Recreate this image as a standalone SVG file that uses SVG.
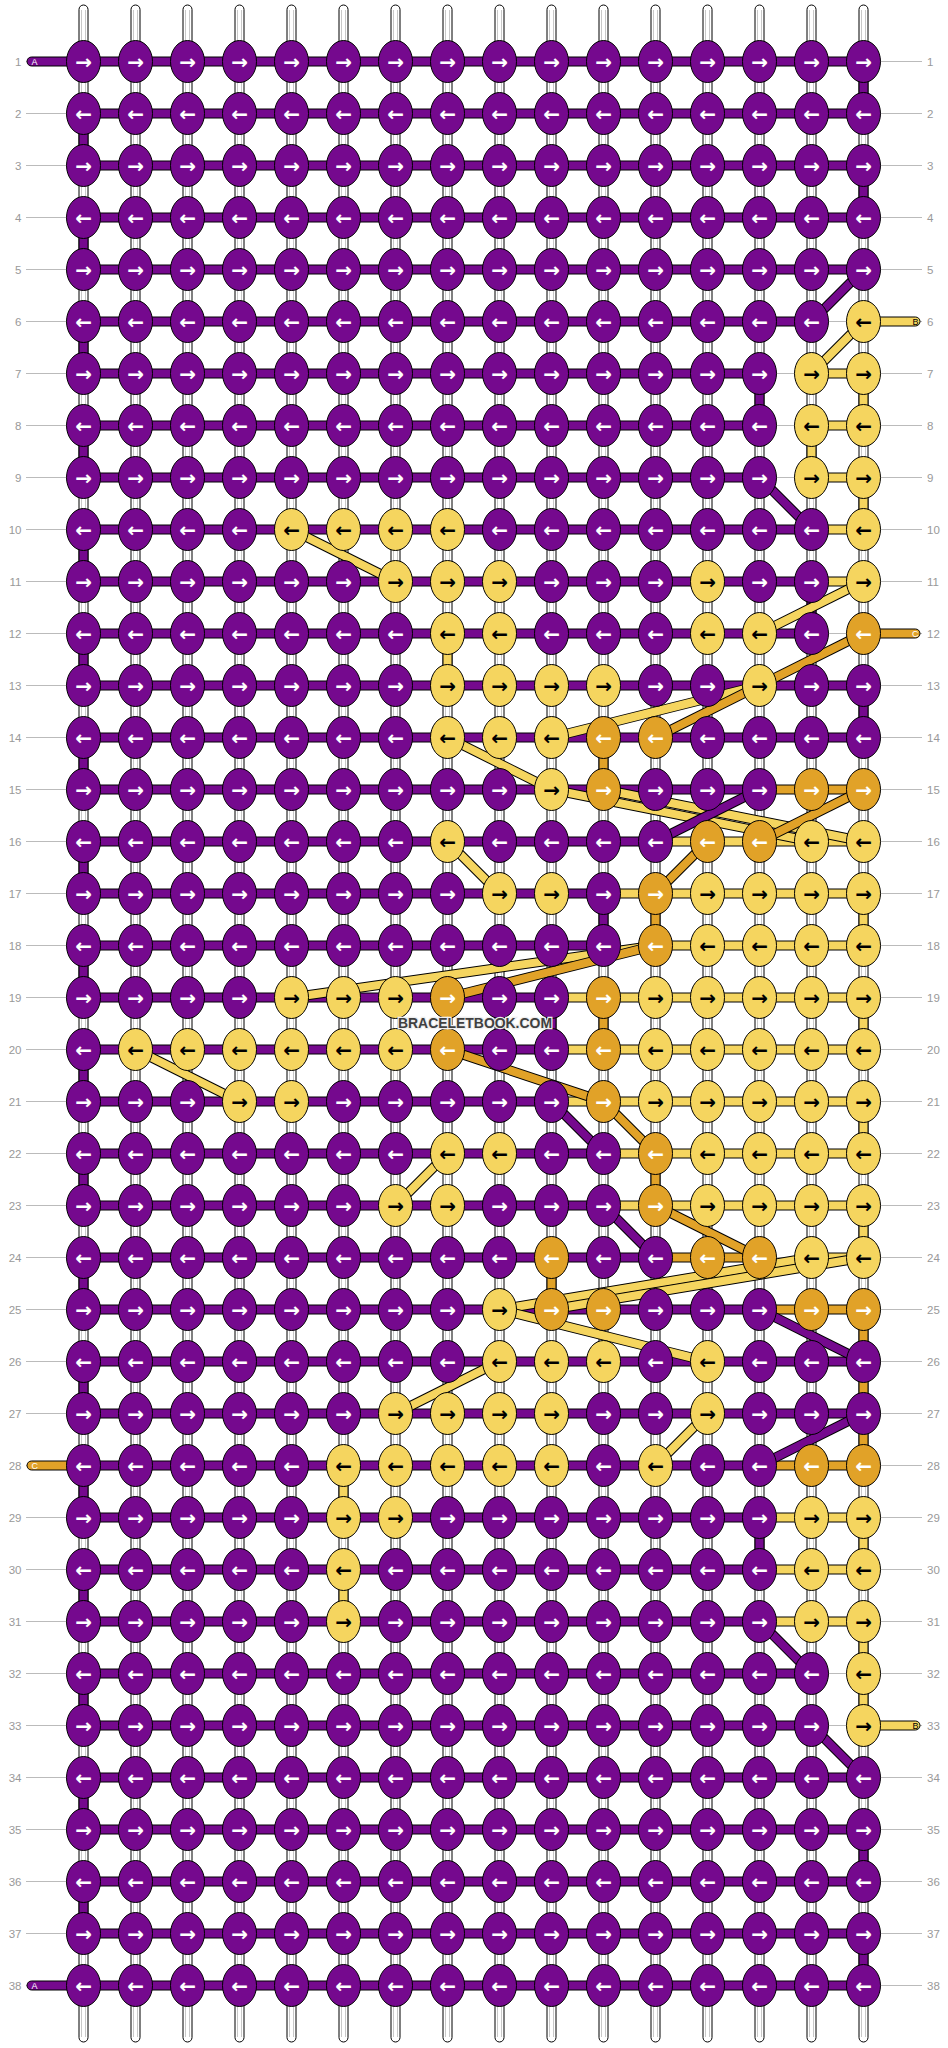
<svg xmlns="http://www.w3.org/2000/svg" width="948" height="2048" viewBox="0 0 948 2048">
<style>
.gl{stroke:#bbb;stroke-width:1;fill:none}
.lb{font:11.5px "Liberation Sans",Arial,sans-serif;fill:#999}
.l{text-anchor:end}
.st{fill:#fff;stroke:#000;stroke-width:1}
.si{fill:none;stroke:#c8c8c8;stroke-width:1}
.sp{fill:#75098e;stroke:#000;stroke-width:1}
.sy{fill:#f5d55f;stroke:#000;stroke-width:1}
.so{fill:#e1a228;stroke:#000;stroke-width:1}
.db{stroke:#000;stroke-width:10;fill:none}
.dp{stroke:#75098e;stroke-width:8;fill:none}
.dy{stroke:#f5d55f;stroke-width:8;fill:none}
.do{stroke:#e1a228;stroke-width:8;fill:none}
.tl{font:9px "Liberation Sans",Arial,sans-serif}
#knots ellipse{rx:17px;ry:21px;stroke:#000;stroke-width:1;fill:#75098e}
#knots text{font:bold 20px "DejaVu Sans",sans-serif;text-anchor:middle;dominant-baseline:central;fill:#fff}
#knots .Y ellipse{fill:#f5d55f}
#knots .O ellipse{fill:#e1a228}
#knots .Y text{fill:#000}
</style>
<g id="guides">
<path class="gl" d="M26 61.5H922M26 113.5H922M26 165.5H922M26 217.5H922M26 269.5H922M26 321.5H922M26 373.5H922M26 425.5H922M26 477.5H922M26 529.5H922M26 581.5H922M26 633.5H922M26 685.5H922M26 737.5H922M26 789.5H922M26 841.5H922M26 893.5H922M26 945.5H922M26 997.5H922M26 1049.5H922M26 1101.5H922M26 1153.5H922M26 1205.5H922M26 1257.5H922M26 1309.5H922M26 1361.5H922M26 1413.5H922M26 1465.5H922M26 1517.5H922M26 1569.5H922M26 1621.5H922M26 1673.5H922M26 1725.5H922M26 1777.5H922M26 1829.5H922M26 1881.5H922M26 1933.5H922M26 1985.5H922"/>
</g>
<g id="labels">
<text class="lb l" x="21.5" y="65.5">1</text><text class="lb l" x="21.5" y="117.5">2</text><text class="lb l" x="21.5" y="169.5">3</text><text class="lb l" x="21.5" y="221.5">4</text><text class="lb l" x="21.5" y="273.5">5</text><text class="lb l" x="21.5" y="325.5">6</text><text class="lb l" x="21.5" y="377.5">7</text><text class="lb l" x="21.5" y="429.5">8</text><text class="lb l" x="21.5" y="481.5">9</text><text class="lb l" x="21.5" y="533.5">10</text><text class="lb l" x="21.5" y="585.5">11</text><text class="lb l" x="21.5" y="637.5">12</text><text class="lb l" x="21.5" y="689.5">13</text><text class="lb l" x="21.5" y="741.5">14</text><text class="lb l" x="21.5" y="793.5">15</text><text class="lb l" x="21.5" y="845.5">16</text><text class="lb l" x="21.5" y="897.5">17</text><text class="lb l" x="21.5" y="949.5">18</text><text class="lb l" x="21.5" y="1001.5">19</text><text class="lb l" x="21.5" y="1053.5">20</text><text class="lb l" x="21.5" y="1105.5">21</text><text class="lb l" x="21.5" y="1157.5">22</text><text class="lb l" x="21.5" y="1209.5">23</text><text class="lb l" x="21.5" y="1261.5">24</text><text class="lb l" x="21.5" y="1313.5">25</text><text class="lb l" x="21.5" y="1365.5">26</text><text class="lb l" x="21.5" y="1417.5">27</text><text class="lb l" x="21.5" y="1469.5">28</text><text class="lb l" x="21.5" y="1521.5">29</text><text class="lb l" x="21.5" y="1573.5">30</text><text class="lb l" x="21.5" y="1625.5">31</text><text class="lb l" x="21.5" y="1677.5">32</text><text class="lb l" x="21.5" y="1729.5">33</text><text class="lb l" x="21.5" y="1781.5">34</text><text class="lb l" x="21.5" y="1833.5">35</text><text class="lb l" x="21.5" y="1885.5">36</text><text class="lb l" x="21.5" y="1937.5">37</text><text class="lb l" x="21.5" y="1989.5">38</text>
<text class="lb" x="927" y="65.5">1</text><text class="lb" x="927" y="117.5">2</text><text class="lb" x="927" y="169.5">3</text><text class="lb" x="927" y="221.5">4</text><text class="lb" x="927" y="273.5">5</text><text class="lb" x="927" y="325.5">6</text><text class="lb" x="927" y="377.5">7</text><text class="lb" x="927" y="429.5">8</text><text class="lb" x="927" y="481.5">9</text><text class="lb" x="927" y="533.5">10</text><text class="lb" x="927" y="585.5">11</text><text class="lb" x="927" y="637.5">12</text><text class="lb" x="927" y="689.5">13</text><text class="lb" x="927" y="741.5">14</text><text class="lb" x="927" y="793.5">15</text><text class="lb" x="927" y="845.5">16</text><text class="lb" x="927" y="897.5">17</text><text class="lb" x="927" y="949.5">18</text><text class="lb" x="927" y="1001.5">19</text><text class="lb" x="927" y="1053.5">20</text><text class="lb" x="927" y="1105.5">21</text><text class="lb" x="927" y="1157.5">22</text><text class="lb" x="927" y="1209.5">23</text><text class="lb" x="927" y="1261.5">24</text><text class="lb" x="927" y="1313.5">25</text><text class="lb" x="927" y="1365.5">26</text><text class="lb" x="927" y="1417.5">27</text><text class="lb" x="927" y="1469.5">28</text><text class="lb" x="927" y="1521.5">29</text><text class="lb" x="927" y="1573.5">30</text><text class="lb" x="927" y="1625.5">31</text><text class="lb" x="927" y="1677.5">32</text><text class="lb" x="927" y="1729.5">33</text><text class="lb" x="927" y="1781.5">34</text><text class="lb" x="927" y="1833.5">35</text><text class="lb" x="927" y="1885.5">36</text><text class="lb" x="927" y="1937.5">37</text><text class="lb" x="927" y="1989.5">38</text>
</g>
<g id="strings">
<rect class="st" x="79" y="5" width="9" height="2037" rx="4.5"/><rect class="st" x="131" y="5" width="9" height="2037" rx="4.5"/><rect class="st" x="183" y="5" width="9" height="2037" rx="4.5"/><rect class="st" x="235" y="5" width="9" height="2037" rx="4.5"/><rect class="st" x="287" y="5" width="9" height="2037" rx="4.5"/><rect class="st" x="339" y="5" width="9" height="2037" rx="4.5"/><rect class="st" x="391" y="5" width="9" height="2037" rx="4.5"/><rect class="st" x="443" y="5" width="9" height="2037" rx="4.5"/><rect class="st" x="495" y="5" width="9" height="2037" rx="4.5"/><rect class="st" x="547" y="5" width="9" height="2037" rx="4.5"/><rect class="st" x="599" y="5" width="9" height="2037" rx="4.5"/><rect class="st" x="651" y="5" width="9" height="2037" rx="4.5"/><rect class="st" x="703" y="5" width="9" height="2037" rx="4.5"/><rect class="st" x="755" y="5" width="9" height="2037" rx="4.5"/><rect class="st" x="807" y="5" width="9" height="2037" rx="4.5"/><rect class="st" x="859" y="5" width="9" height="2037" rx="4.5"/>
<path class="si" d="M81.5 10V2037M85.5 10V2037M133.5 10V2037M137.5 10V2037M185.5 10V2037M189.5 10V2037M237.5 10V2037M241.5 10V2037M289.5 10V2037M293.5 10V2037M341.5 10V2037M345.5 10V2037M393.5 10V2037M397.5 10V2037M445.5 10V2037M449.5 10V2037M497.5 10V2037M501.5 10V2037M549.5 10V2037M553.5 10V2037M601.5 10V2037M605.5 10V2037M653.5 10V2037M657.5 10V2037M705.5 10V2037M709.5 10V2037M757.5 10V2037M761.5 10V2037M809.5 10V2037M813.5 10V2037M861.5 10V2037M865.5 10V2037"/>
</g>
<g id="ends">
<rect class="sp" x="27" y="57" width="60" height="9" rx="4.5"/><text class="tl" x="31.5" y="64.8" fill="#fff">A</text>
<rect class="sp" x="27" y="1981" width="60" height="9" rx="4.5"/><text class="tl" x="31.5" y="1988.8" fill="#fff">A</text>
<rect class="so" x="27" y="1461" width="60" height="9" rx="4.5"/><text class="tl" x="31.5" y="1468.8" fill="#fff">C</text>
<rect class="sy" x="860" y="317" width="60" height="9" rx="4.5"/><text class="tl l" x="918.5" y="324.8" fill="#000">B</text>
<rect class="so" x="860" y="629" width="60" height="9" rx="4.5"/><text class="tl l" x="918.5" y="636.8" fill="#fff">C</text>
<rect class="sy" x="860" y="1721" width="60" height="9" rx="4.5"/><text class="tl l" x="918.5" y="1728.8" fill="#000">B</text>
</g>
<g id="connectors">
<path class="sp" d="M79 113.5h9v52h-9zM79 217.5h9v52h-9zM79 321.5h9v52h-9zM79 425.5h9v52h-9zM79 529.5h9v52h-9zM79 633.5h9v52h-9zM79 737.5h9v52h-9zM79 841.5h9v52h-9zM79 945.5h9v52h-9zM79 1049.5h9v52h-9zM79 1153.5h9v52h-9zM79 1257.5h9v52h-9zM79 1361.5h9v52h-9zM79 1465.5h9v52h-9zM79 1569.5h9v52h-9zM79 1673.5h9v52h-9zM79 1777.5h9v52h-9zM79 1881.5h9v52h-9zM859 61.5h9v52h-9zM859 165.5h9v52h-9zM859 685.5h9v52h-9zM859 1829.5h9v52h-9zM859 1933.5h9v52h-9zM755 373.5h9v52h-9zM807 581.5h9v52h-9zM599 893.5h9v52h-9zM547 997.5h9v52h-9zM755 1517.5h9v52h-9z"/>
<path class="sy" d="M859 373.5h9v52h-9zM807 425.5h9v52h-9zM859 477.5h9v52h-9zM443 633.5h9v52h-9zM859 893.5h9v52h-9zM859 997.5h9v52h-9zM859 1101.5h9v52h-9zM859 1205.5h9v52h-9zM339 1465.5h9v52h-9zM859 1517.5h9v52h-9zM339 1569.5h9v52h-9zM859 1621.5h9v52h-9zM859 1673.5h9v52h-9z"/>
<path class="so" d="M599 737.5h9v52h-9zM651 893.5h9v52h-9zM599 997.5h9v52h-9zM651 1153.5h9v52h-9zM547 1257.5h9v52h-9zM859 1309.5h9v52h-9zM859 1361.5h9v52h-9zM859 1413.5h9v52h-9z"/>
<path class="sp" d="M83.5 57h780v9h-780zM83.5 109h780v9h-780zM83.5 161h780v9h-780zM83.5 213h780v9h-780zM83.5 265h780v9h-780zM83.5 317h728v9h-728zM83.5 369h676v9h-676zM83.5 421h676v9h-676zM83.5 473h676v9h-676zM83.5 525h728v9h-728zM83.5 577h728v9h-728zM83.5 629h728v9h-728zM83.5 681h780v9h-780zM83.5 733h780v9h-780zM83.5 785h676v9h-676zM83.5 837h572v9h-572zM83.5 889h520v9h-520zM83.5 941h520v9h-520zM83.5 993h468v9h-468zM83.5 1045h468v9h-468zM83.5 1097h468v9h-468zM83.5 1149h520v9h-520zM83.5 1201h520v9h-520zM83.5 1253h572v9h-572zM83.5 1305h676v9h-676zM83.5 1357h780v9h-780zM83.5 1409h780v9h-780zM83.5 1461h676v9h-676zM83.5 1513h676v9h-676zM83.5 1565h676v9h-676zM83.5 1617h676v9h-676zM83.5 1669h728v9h-728zM83.5 1721h728v9h-728zM83.5 1773h780v9h-780zM83.5 1825h780v9h-780zM83.5 1877h780v9h-780zM83.5 1929h780v9h-780zM83.5 1981h780v9h-780z"/>
<path class="sy" d="M811.5 369h52v9h-52zM811.5 421h52v9h-52zM811.5 473h52v9h-52zM811.5 525h52v9h-52zM811.5 577h52v9h-52zM655.5 837h208v9h-208zM603.5 889h260v9h-260zM655.5 941h208v9h-208zM551.5 993h312v9h-312zM551.5 1045h312v9h-312zM551.5 1097h312v9h-312zM603.5 1149h260v9h-260zM603.5 1201h260v9h-260zM811.5 1253h52v9h-52zM759.5 1513h104v9h-104zM759.5 1565h104v9h-104zM759.5 1617h104v9h-104z"/>
<path class="so" d="M759.5 785h104v9h-104zM655.5 1253h104v9h-104zM759.5 1305h104v9h-104zM759.5 1461h104v9h-104z"/>
<path class="db" d="M863.5 269.5L811.5 321.5"/><path class="dp" d="M863.5 269.5L811.5 321.5"/>
<path class="db" d="M863.5 321.5L811.5 373.5"/><path class="dy" d="M863.5 321.5L811.5 373.5"/>
<path class="db" d="M759.5 477.5L811.5 529.5"/><path class="dp" d="M759.5 477.5L811.5 529.5"/>
<path class="db" d="M291.5 529.5L395.5 581.5"/><path class="dy" d="M291.5 529.5L395.5 581.5"/>
<path class="db" d="M863.5 581.5L759.5 633.5"/><path class="dy" d="M863.5 581.5L759.5 633.5"/>
<path class="db" d="M759.5 685.5L551.5 737.5"/><path class="dy" d="M759.5 685.5L551.5 737.5"/>
<path class="db" d="M863.5 633.5L655.5 737.5"/><path class="do" d="M863.5 633.5L655.5 737.5"/>
<path class="db" d="M447.5 737.5L551.5 789.5"/><path class="dy" d="M447.5 737.5L551.5 789.5"/>
<path class="db" d="M551.5 789.5L811.5 841.5"/><path class="dy" d="M551.5 789.5L811.5 841.5"/>
<path class="db" d="M603.5 789.5L863.5 841.5"/><path class="dy" d="M603.5 789.5L863.5 841.5"/>
<path class="db" d="M759.5 789.5L655.5 841.5"/><path class="dp" d="M759.5 789.5L655.5 841.5"/>
<path class="db" d="M863.5 789.5L759.5 841.5"/><path class="do" d="M863.5 789.5L759.5 841.5"/>
<path class="db" d="M447.5 841.5L499.5 893.5"/><path class="dy" d="M447.5 841.5L499.5 893.5"/>
<path class="db" d="M707.5 841.5L655.5 893.5"/><path class="do" d="M707.5 841.5L655.5 893.5"/>
<path class="db" d="M655.5 945.5L291.5 997.5"/><path class="dy" d="M655.5 945.5L291.5 997.5"/>
<path class="db" d="M655.5 945.5L447.5 997.5"/><path class="do" d="M655.5 945.5L447.5 997.5"/>
<path class="db" d="M135.5 1049.5L239.5 1101.5"/><path class="dy" d="M135.5 1049.5L239.5 1101.5"/>
<path class="db" d="M447.5 1049.5L603.5 1101.5"/><path class="do" d="M447.5 1049.5L603.5 1101.5"/>
<path class="db" d="M551.5 1101.5L603.5 1153.5"/><path class="dp" d="M551.5 1101.5L603.5 1153.5"/>
<path class="db" d="M603.5 1101.5L655.5 1153.5"/><path class="do" d="M603.5 1101.5L655.5 1153.5"/>
<path class="db" d="M447.5 1153.5L395.5 1205.5"/><path class="dy" d="M447.5 1153.5L395.5 1205.5"/>
<path class="db" d="M603.5 1205.5L655.5 1257.5"/><path class="dp" d="M603.5 1205.5L655.5 1257.5"/>
<path class="db" d="M655.5 1205.5L759.5 1257.5"/><path class="do" d="M655.5 1205.5L759.5 1257.5"/>
<path class="db" d="M811.5 1257.5L499.5 1309.5"/><path class="dy" d="M811.5 1257.5L499.5 1309.5"/>
<path class="db" d="M863.5 1257.5L551.5 1309.5"/><path class="dy" d="M863.5 1257.5L551.5 1309.5"/>
<path class="db" d="M499.5 1309.5L707.5 1361.5"/><path class="dy" d="M499.5 1309.5L707.5 1361.5"/>
<path class="db" d="M759.5 1309.5L863.5 1361.5"/><path class="dp" d="M759.5 1309.5L863.5 1361.5"/>
<path class="db" d="M499.5 1361.5L395.5 1413.5"/><path class="dy" d="M499.5 1361.5L395.5 1413.5"/>
<path class="db" d="M863.5 1413.5L759.5 1465.5"/><path class="dp" d="M863.5 1413.5L759.5 1465.5"/>
<path class="db" d="M707.5 1413.5L655.5 1465.5"/><path class="dy" d="M707.5 1413.5L655.5 1465.5"/>
<path class="db" d="M759.5 1621.5L811.5 1673.5"/><path class="dp" d="M759.5 1621.5L811.5 1673.5"/>
<path class="db" d="M811.5 1725.5L863.5 1777.5"/><path class="dp" d="M811.5 1725.5L863.5 1777.5"/>
</g>
<g id="knots">
<g id="row1" transform="translate(0 61.5)"><g id="k1-1" transform="translate(83.5)"><ellipse/><text>→</text></g><g id="k1-2" transform="translate(135.5)"><ellipse/><text>→</text></g><g id="k1-3" transform="translate(187.5)"><ellipse/><text>→</text></g><g id="k1-4" transform="translate(239.5)"><ellipse/><text>→</text></g><g id="k1-5" transform="translate(291.5)"><ellipse/><text>→</text></g><g id="k1-6" transform="translate(343.5)"><ellipse/><text>→</text></g><g id="k1-7" transform="translate(395.5)"><ellipse/><text>→</text></g><g id="k1-8" transform="translate(447.5)"><ellipse/><text>→</text></g><g id="k1-9" transform="translate(499.5)"><ellipse/><text>→</text></g><g id="k1-10" transform="translate(551.5)"><ellipse/><text>→</text></g><g id="k1-11" transform="translate(603.5)"><ellipse/><text>→</text></g><g id="k1-12" transform="translate(655.5)"><ellipse/><text>→</text></g><g id="k1-13" transform="translate(707.5)"><ellipse/><text>→</text></g><g id="k1-14" transform="translate(759.5)"><ellipse/><text>→</text></g><g id="k1-15" transform="translate(811.5)"><ellipse/><text>→</text></g><g id="k1-16" transform="translate(863.5)"><ellipse/><text>→</text></g></g>
<g id="row2" transform="translate(0 113.5)"><g id="k2-1" transform="translate(83.5)"><ellipse/><text>←</text></g><g id="k2-2" transform="translate(135.5)"><ellipse/><text>←</text></g><g id="k2-3" transform="translate(187.5)"><ellipse/><text>←</text></g><g id="k2-4" transform="translate(239.5)"><ellipse/><text>←</text></g><g id="k2-5" transform="translate(291.5)"><ellipse/><text>←</text></g><g id="k2-6" transform="translate(343.5)"><ellipse/><text>←</text></g><g id="k2-7" transform="translate(395.5)"><ellipse/><text>←</text></g><g id="k2-8" transform="translate(447.5)"><ellipse/><text>←</text></g><g id="k2-9" transform="translate(499.5)"><ellipse/><text>←</text></g><g id="k2-10" transform="translate(551.5)"><ellipse/><text>←</text></g><g id="k2-11" transform="translate(603.5)"><ellipse/><text>←</text></g><g id="k2-12" transform="translate(655.5)"><ellipse/><text>←</text></g><g id="k2-13" transform="translate(707.5)"><ellipse/><text>←</text></g><g id="k2-14" transform="translate(759.5)"><ellipse/><text>←</text></g><g id="k2-15" transform="translate(811.5)"><ellipse/><text>←</text></g><g id="k2-16" transform="translate(863.5)"><ellipse/><text>←</text></g></g>
<g id="row3" transform="translate(0 165.5)"><g id="k3-1" transform="translate(83.5)"><ellipse/><text>→</text></g><g id="k3-2" transform="translate(135.5)"><ellipse/><text>→</text></g><g id="k3-3" transform="translate(187.5)"><ellipse/><text>→</text></g><g id="k3-4" transform="translate(239.5)"><ellipse/><text>→</text></g><g id="k3-5" transform="translate(291.5)"><ellipse/><text>→</text></g><g id="k3-6" transform="translate(343.5)"><ellipse/><text>→</text></g><g id="k3-7" transform="translate(395.5)"><ellipse/><text>→</text></g><g id="k3-8" transform="translate(447.5)"><ellipse/><text>→</text></g><g id="k3-9" transform="translate(499.5)"><ellipse/><text>→</text></g><g id="k3-10" transform="translate(551.5)"><ellipse/><text>→</text></g><g id="k3-11" transform="translate(603.5)"><ellipse/><text>→</text></g><g id="k3-12" transform="translate(655.5)"><ellipse/><text>→</text></g><g id="k3-13" transform="translate(707.5)"><ellipse/><text>→</text></g><g id="k3-14" transform="translate(759.5)"><ellipse/><text>→</text></g><g id="k3-15" transform="translate(811.5)"><ellipse/><text>→</text></g><g id="k3-16" transform="translate(863.5)"><ellipse/><text>→</text></g></g>
<g id="row4" transform="translate(0 217.5)"><g id="k4-1" transform="translate(83.5)"><ellipse/><text>←</text></g><g id="k4-2" transform="translate(135.5)"><ellipse/><text>←</text></g><g id="k4-3" transform="translate(187.5)"><ellipse/><text>←</text></g><g id="k4-4" transform="translate(239.5)"><ellipse/><text>←</text></g><g id="k4-5" transform="translate(291.5)"><ellipse/><text>←</text></g><g id="k4-6" transform="translate(343.5)"><ellipse/><text>←</text></g><g id="k4-7" transform="translate(395.5)"><ellipse/><text>←</text></g><g id="k4-8" transform="translate(447.5)"><ellipse/><text>←</text></g><g id="k4-9" transform="translate(499.5)"><ellipse/><text>←</text></g><g id="k4-10" transform="translate(551.5)"><ellipse/><text>←</text></g><g id="k4-11" transform="translate(603.5)"><ellipse/><text>←</text></g><g id="k4-12" transform="translate(655.5)"><ellipse/><text>←</text></g><g id="k4-13" transform="translate(707.5)"><ellipse/><text>←</text></g><g id="k4-14" transform="translate(759.5)"><ellipse/><text>←</text></g><g id="k4-15" transform="translate(811.5)"><ellipse/><text>←</text></g><g id="k4-16" transform="translate(863.5)"><ellipse/><text>←</text></g></g>
<g id="row5" transform="translate(0 269.5)"><g id="k5-1" transform="translate(83.5)"><ellipse/><text>→</text></g><g id="k5-2" transform="translate(135.5)"><ellipse/><text>→</text></g><g id="k5-3" transform="translate(187.5)"><ellipse/><text>→</text></g><g id="k5-4" transform="translate(239.5)"><ellipse/><text>→</text></g><g id="k5-5" transform="translate(291.5)"><ellipse/><text>→</text></g><g id="k5-6" transform="translate(343.5)"><ellipse/><text>→</text></g><g id="k5-7" transform="translate(395.5)"><ellipse/><text>→</text></g><g id="k5-8" transform="translate(447.5)"><ellipse/><text>→</text></g><g id="k5-9" transform="translate(499.5)"><ellipse/><text>→</text></g><g id="k5-10" transform="translate(551.5)"><ellipse/><text>→</text></g><g id="k5-11" transform="translate(603.5)"><ellipse/><text>→</text></g><g id="k5-12" transform="translate(655.5)"><ellipse/><text>→</text></g><g id="k5-13" transform="translate(707.5)"><ellipse/><text>→</text></g><g id="k5-14" transform="translate(759.5)"><ellipse/><text>→</text></g><g id="k5-15" transform="translate(811.5)"><ellipse/><text>→</text></g><g id="k5-16" transform="translate(863.5)"><ellipse/><text>→</text></g></g>
<g id="row6" transform="translate(0 321.5)"><g id="k6-1" transform="translate(83.5)"><ellipse/><text>←</text></g><g id="k6-2" transform="translate(135.5)"><ellipse/><text>←</text></g><g id="k6-3" transform="translate(187.5)"><ellipse/><text>←</text></g><g id="k6-4" transform="translate(239.5)"><ellipse/><text>←</text></g><g id="k6-5" transform="translate(291.5)"><ellipse/><text>←</text></g><g id="k6-6" transform="translate(343.5)"><ellipse/><text>←</text></g><g id="k6-7" transform="translate(395.5)"><ellipse/><text>←</text></g><g id="k6-8" transform="translate(447.5)"><ellipse/><text>←</text></g><g id="k6-9" transform="translate(499.5)"><ellipse/><text>←</text></g><g id="k6-10" transform="translate(551.5)"><ellipse/><text>←</text></g><g id="k6-11" transform="translate(603.5)"><ellipse/><text>←</text></g><g id="k6-12" transform="translate(655.5)"><ellipse/><text>←</text></g><g id="k6-13" transform="translate(707.5)"><ellipse/><text>←</text></g><g id="k6-14" transform="translate(759.5)"><ellipse/><text>←</text></g><g id="k6-15" transform="translate(811.5)"><ellipse/><text>←</text></g><g id="k6-16" class="Y" transform="translate(863.5)"><ellipse/><text>←</text></g></g>
<g id="row7" transform="translate(0 373.5)"><g id="k7-1" transform="translate(83.5)"><ellipse/><text>→</text></g><g id="k7-2" transform="translate(135.5)"><ellipse/><text>→</text></g><g id="k7-3" transform="translate(187.5)"><ellipse/><text>→</text></g><g id="k7-4" transform="translate(239.5)"><ellipse/><text>→</text></g><g id="k7-5" transform="translate(291.5)"><ellipse/><text>→</text></g><g id="k7-6" transform="translate(343.5)"><ellipse/><text>→</text></g><g id="k7-7" transform="translate(395.5)"><ellipse/><text>→</text></g><g id="k7-8" transform="translate(447.5)"><ellipse/><text>→</text></g><g id="k7-9" transform="translate(499.5)"><ellipse/><text>→</text></g><g id="k7-10" transform="translate(551.5)"><ellipse/><text>→</text></g><g id="k7-11" transform="translate(603.5)"><ellipse/><text>→</text></g><g id="k7-12" transform="translate(655.5)"><ellipse/><text>→</text></g><g id="k7-13" transform="translate(707.5)"><ellipse/><text>→</text></g><g id="k7-14" transform="translate(759.5)"><ellipse/><text>→</text></g><g id="k7-15" class="Y" transform="translate(811.5)"><ellipse/><text>→</text></g><g id="k7-16" class="Y" transform="translate(863.5)"><ellipse/><text>→</text></g></g>
<g id="row8" transform="translate(0 425.5)"><g id="k8-1" transform="translate(83.5)"><ellipse/><text>←</text></g><g id="k8-2" transform="translate(135.5)"><ellipse/><text>←</text></g><g id="k8-3" transform="translate(187.5)"><ellipse/><text>←</text></g><g id="k8-4" transform="translate(239.5)"><ellipse/><text>←</text></g><g id="k8-5" transform="translate(291.5)"><ellipse/><text>←</text></g><g id="k8-6" transform="translate(343.5)"><ellipse/><text>←</text></g><g id="k8-7" transform="translate(395.5)"><ellipse/><text>←</text></g><g id="k8-8" transform="translate(447.5)"><ellipse/><text>←</text></g><g id="k8-9" transform="translate(499.5)"><ellipse/><text>←</text></g><g id="k8-10" transform="translate(551.5)"><ellipse/><text>←</text></g><g id="k8-11" transform="translate(603.5)"><ellipse/><text>←</text></g><g id="k8-12" transform="translate(655.5)"><ellipse/><text>←</text></g><g id="k8-13" transform="translate(707.5)"><ellipse/><text>←</text></g><g id="k8-14" transform="translate(759.5)"><ellipse/><text>←</text></g><g id="k8-15" class="Y" transform="translate(811.5)"><ellipse/><text>←</text></g><g id="k8-16" class="Y" transform="translate(863.5)"><ellipse/><text>←</text></g></g>
<g id="row9" transform="translate(0 477.5)"><g id="k9-1" transform="translate(83.5)"><ellipse/><text>→</text></g><g id="k9-2" transform="translate(135.5)"><ellipse/><text>→</text></g><g id="k9-3" transform="translate(187.5)"><ellipse/><text>→</text></g><g id="k9-4" transform="translate(239.5)"><ellipse/><text>→</text></g><g id="k9-5" transform="translate(291.5)"><ellipse/><text>→</text></g><g id="k9-6" transform="translate(343.5)"><ellipse/><text>→</text></g><g id="k9-7" transform="translate(395.5)"><ellipse/><text>→</text></g><g id="k9-8" transform="translate(447.5)"><ellipse/><text>→</text></g><g id="k9-9" transform="translate(499.5)"><ellipse/><text>→</text></g><g id="k9-10" transform="translate(551.5)"><ellipse/><text>→</text></g><g id="k9-11" transform="translate(603.5)"><ellipse/><text>→</text></g><g id="k9-12" transform="translate(655.5)"><ellipse/><text>→</text></g><g id="k9-13" transform="translate(707.5)"><ellipse/><text>→</text></g><g id="k9-14" transform="translate(759.5)"><ellipse/><text>→</text></g><g id="k9-15" class="Y" transform="translate(811.5)"><ellipse/><text>→</text></g><g id="k9-16" class="Y" transform="translate(863.5)"><ellipse/><text>→</text></g></g>
<g id="row10" transform="translate(0 529.5)"><g id="k10-1" transform="translate(83.5)"><ellipse/><text>←</text></g><g id="k10-2" transform="translate(135.5)"><ellipse/><text>←</text></g><g id="k10-3" transform="translate(187.5)"><ellipse/><text>←</text></g><g id="k10-4" transform="translate(239.5)"><ellipse/><text>←</text></g><g id="k10-5" class="Y" transform="translate(291.5)"><ellipse/><text>←</text></g><g id="k10-6" class="Y" transform="translate(343.5)"><ellipse/><text>←</text></g><g id="k10-7" class="Y" transform="translate(395.5)"><ellipse/><text>←</text></g><g id="k10-8" class="Y" transform="translate(447.5)"><ellipse/><text>←</text></g><g id="k10-9" transform="translate(499.5)"><ellipse/><text>←</text></g><g id="k10-10" transform="translate(551.5)"><ellipse/><text>←</text></g><g id="k10-11" transform="translate(603.5)"><ellipse/><text>←</text></g><g id="k10-12" transform="translate(655.5)"><ellipse/><text>←</text></g><g id="k10-13" transform="translate(707.5)"><ellipse/><text>←</text></g><g id="k10-14" transform="translate(759.5)"><ellipse/><text>←</text></g><g id="k10-15" transform="translate(811.5)"><ellipse/><text>←</text></g><g id="k10-16" class="Y" transform="translate(863.5)"><ellipse/><text>←</text></g></g>
<g id="row11" transform="translate(0 581.5)"><g id="k11-1" transform="translate(83.5)"><ellipse/><text>→</text></g><g id="k11-2" transform="translate(135.5)"><ellipse/><text>→</text></g><g id="k11-3" transform="translate(187.5)"><ellipse/><text>→</text></g><g id="k11-4" transform="translate(239.5)"><ellipse/><text>→</text></g><g id="k11-5" transform="translate(291.5)"><ellipse/><text>→</text></g><g id="k11-6" transform="translate(343.5)"><ellipse/><text>→</text></g><g id="k11-7" class="Y" transform="translate(395.5)"><ellipse/><text>→</text></g><g id="k11-8" class="Y" transform="translate(447.5)"><ellipse/><text>→</text></g><g id="k11-9" class="Y" transform="translate(499.5)"><ellipse/><text>→</text></g><g id="k11-10" transform="translate(551.5)"><ellipse/><text>→</text></g><g id="k11-11" transform="translate(603.5)"><ellipse/><text>→</text></g><g id="k11-12" transform="translate(655.5)"><ellipse/><text>→</text></g><g id="k11-13" class="Y" transform="translate(707.5)"><ellipse/><text>→</text></g><g id="k11-14" transform="translate(759.5)"><ellipse/><text>→</text></g><g id="k11-15" transform="translate(811.5)"><ellipse/><text>→</text></g><g id="k11-16" class="Y" transform="translate(863.5)"><ellipse/><text>→</text></g></g>
<g id="row12" transform="translate(0 633.5)"><g id="k12-1" transform="translate(83.5)"><ellipse/><text>←</text></g><g id="k12-2" transform="translate(135.5)"><ellipse/><text>←</text></g><g id="k12-3" transform="translate(187.5)"><ellipse/><text>←</text></g><g id="k12-4" transform="translate(239.5)"><ellipse/><text>←</text></g><g id="k12-5" transform="translate(291.5)"><ellipse/><text>←</text></g><g id="k12-6" transform="translate(343.5)"><ellipse/><text>←</text></g><g id="k12-7" transform="translate(395.5)"><ellipse/><text>←</text></g><g id="k12-8" class="Y" transform="translate(447.5)"><ellipse/><text>←</text></g><g id="k12-9" class="Y" transform="translate(499.5)"><ellipse/><text>←</text></g><g id="k12-10" transform="translate(551.5)"><ellipse/><text>←</text></g><g id="k12-11" transform="translate(603.5)"><ellipse/><text>←</text></g><g id="k12-12" transform="translate(655.5)"><ellipse/><text>←</text></g><g id="k12-13" class="Y" transform="translate(707.5)"><ellipse/><text>←</text></g><g id="k12-14" class="Y" transform="translate(759.5)"><ellipse/><text>←</text></g><g id="k12-15" transform="translate(811.5)"><ellipse/><text>←</text></g><g id="k12-16" class="O" transform="translate(863.5)"><ellipse/><text>←</text></g></g>
<g id="row13" transform="translate(0 685.5)"><g id="k13-1" transform="translate(83.5)"><ellipse/><text>→</text></g><g id="k13-2" transform="translate(135.5)"><ellipse/><text>→</text></g><g id="k13-3" transform="translate(187.5)"><ellipse/><text>→</text></g><g id="k13-4" transform="translate(239.5)"><ellipse/><text>→</text></g><g id="k13-5" transform="translate(291.5)"><ellipse/><text>→</text></g><g id="k13-6" transform="translate(343.5)"><ellipse/><text>→</text></g><g id="k13-7" transform="translate(395.5)"><ellipse/><text>→</text></g><g id="k13-8" class="Y" transform="translate(447.5)"><ellipse/><text>→</text></g><g id="k13-9" class="Y" transform="translate(499.5)"><ellipse/><text>→</text></g><g id="k13-10" class="Y" transform="translate(551.5)"><ellipse/><text>→</text></g><g id="k13-11" class="Y" transform="translate(603.5)"><ellipse/><text>→</text></g><g id="k13-12" transform="translate(655.5)"><ellipse/><text>→</text></g><g id="k13-13" transform="translate(707.5)"><ellipse/><text>→</text></g><g id="k13-14" class="Y" transform="translate(759.5)"><ellipse/><text>→</text></g><g id="k13-15" transform="translate(811.5)"><ellipse/><text>→</text></g><g id="k13-16" transform="translate(863.5)"><ellipse/><text>→</text></g></g>
<g id="row14" transform="translate(0 737.5)"><g id="k14-1" transform="translate(83.5)"><ellipse/><text>←</text></g><g id="k14-2" transform="translate(135.5)"><ellipse/><text>←</text></g><g id="k14-3" transform="translate(187.5)"><ellipse/><text>←</text></g><g id="k14-4" transform="translate(239.5)"><ellipse/><text>←</text></g><g id="k14-5" transform="translate(291.5)"><ellipse/><text>←</text></g><g id="k14-6" transform="translate(343.5)"><ellipse/><text>←</text></g><g id="k14-7" transform="translate(395.5)"><ellipse/><text>←</text></g><g id="k14-8" class="Y" transform="translate(447.5)"><ellipse/><text>←</text></g><g id="k14-9" class="Y" transform="translate(499.5)"><ellipse/><text>←</text></g><g id="k14-10" class="Y" transform="translate(551.5)"><ellipse/><text>←</text></g><g id="k14-11" class="O" transform="translate(603.5)"><ellipse/><text>←</text></g><g id="k14-12" class="O" transform="translate(655.5)"><ellipse/><text>←</text></g><g id="k14-13" transform="translate(707.5)"><ellipse/><text>←</text></g><g id="k14-14" transform="translate(759.5)"><ellipse/><text>←</text></g><g id="k14-15" transform="translate(811.5)"><ellipse/><text>←</text></g><g id="k14-16" transform="translate(863.5)"><ellipse/><text>←</text></g></g>
<g id="row15" transform="translate(0 789.5)"><g id="k15-1" transform="translate(83.5)"><ellipse/><text>→</text></g><g id="k15-2" transform="translate(135.5)"><ellipse/><text>→</text></g><g id="k15-3" transform="translate(187.5)"><ellipse/><text>→</text></g><g id="k15-4" transform="translate(239.5)"><ellipse/><text>→</text></g><g id="k15-5" transform="translate(291.5)"><ellipse/><text>→</text></g><g id="k15-6" transform="translate(343.5)"><ellipse/><text>→</text></g><g id="k15-7" transform="translate(395.5)"><ellipse/><text>→</text></g><g id="k15-8" transform="translate(447.5)"><ellipse/><text>→</text></g><g id="k15-9" transform="translate(499.5)"><ellipse/><text>→</text></g><g id="k15-10" class="Y" transform="translate(551.5)"><ellipse/><text>→</text></g><g id="k15-11" class="O" transform="translate(603.5)"><ellipse/><text>→</text></g><g id="k15-12" transform="translate(655.5)"><ellipse/><text>→</text></g><g id="k15-13" transform="translate(707.5)"><ellipse/><text>→</text></g><g id="k15-14" transform="translate(759.5)"><ellipse/><text>→</text></g><g id="k15-15" class="O" transform="translate(811.5)"><ellipse/><text>→</text></g><g id="k15-16" class="O" transform="translate(863.5)"><ellipse/><text>→</text></g></g>
<g id="row16" transform="translate(0 841.5)"><g id="k16-1" transform="translate(83.5)"><ellipse/><text>←</text></g><g id="k16-2" transform="translate(135.5)"><ellipse/><text>←</text></g><g id="k16-3" transform="translate(187.5)"><ellipse/><text>←</text></g><g id="k16-4" transform="translate(239.5)"><ellipse/><text>←</text></g><g id="k16-5" transform="translate(291.5)"><ellipse/><text>←</text></g><g id="k16-6" transform="translate(343.5)"><ellipse/><text>←</text></g><g id="k16-7" transform="translate(395.5)"><ellipse/><text>←</text></g><g id="k16-8" class="Y" transform="translate(447.5)"><ellipse/><text>←</text></g><g id="k16-9" transform="translate(499.5)"><ellipse/><text>←</text></g><g id="k16-10" transform="translate(551.5)"><ellipse/><text>←</text></g><g id="k16-11" transform="translate(603.5)"><ellipse/><text>←</text></g><g id="k16-12" transform="translate(655.5)"><ellipse/><text>←</text></g><g id="k16-13" class="O" transform="translate(707.5)"><ellipse/><text>←</text></g><g id="k16-14" class="O" transform="translate(759.5)"><ellipse/><text>←</text></g><g id="k16-15" class="Y" transform="translate(811.5)"><ellipse/><text>←</text></g><g id="k16-16" class="Y" transform="translate(863.5)"><ellipse/><text>←</text></g></g>
<g id="row17" transform="translate(0 893.5)"><g id="k17-1" transform="translate(83.5)"><ellipse/><text>→</text></g><g id="k17-2" transform="translate(135.5)"><ellipse/><text>→</text></g><g id="k17-3" transform="translate(187.5)"><ellipse/><text>→</text></g><g id="k17-4" transform="translate(239.5)"><ellipse/><text>→</text></g><g id="k17-5" transform="translate(291.5)"><ellipse/><text>→</text></g><g id="k17-6" transform="translate(343.5)"><ellipse/><text>→</text></g><g id="k17-7" transform="translate(395.5)"><ellipse/><text>→</text></g><g id="k17-8" transform="translate(447.5)"><ellipse/><text>→</text></g><g id="k17-9" class="Y" transform="translate(499.5)"><ellipse/><text>→</text></g><g id="k17-10" class="Y" transform="translate(551.5)"><ellipse/><text>→</text></g><g id="k17-11" transform="translate(603.5)"><ellipse/><text>→</text></g><g id="k17-12" class="O" transform="translate(655.5)"><ellipse/><text>→</text></g><g id="k17-13" class="Y" transform="translate(707.5)"><ellipse/><text>→</text></g><g id="k17-14" class="Y" transform="translate(759.5)"><ellipse/><text>→</text></g><g id="k17-15" class="Y" transform="translate(811.5)"><ellipse/><text>→</text></g><g id="k17-16" class="Y" transform="translate(863.5)"><ellipse/><text>→</text></g></g>
<g id="row18" transform="translate(0 945.5)"><g id="k18-1" transform="translate(83.5)"><ellipse/><text>←</text></g><g id="k18-2" transform="translate(135.5)"><ellipse/><text>←</text></g><g id="k18-3" transform="translate(187.5)"><ellipse/><text>←</text></g><g id="k18-4" transform="translate(239.5)"><ellipse/><text>←</text></g><g id="k18-5" transform="translate(291.5)"><ellipse/><text>←</text></g><g id="k18-6" transform="translate(343.5)"><ellipse/><text>←</text></g><g id="k18-7" transform="translate(395.5)"><ellipse/><text>←</text></g><g id="k18-8" transform="translate(447.5)"><ellipse/><text>←</text></g><g id="k18-9" transform="translate(499.5)"><ellipse/><text>←</text></g><g id="k18-10" transform="translate(551.5)"><ellipse/><text>←</text></g><g id="k18-11" transform="translate(603.5)"><ellipse/><text>←</text></g><g id="k18-12" class="O" transform="translate(655.5)"><ellipse/><text>←</text></g><g id="k18-13" class="Y" transform="translate(707.5)"><ellipse/><text>←</text></g><g id="k18-14" class="Y" transform="translate(759.5)"><ellipse/><text>←</text></g><g id="k18-15" class="Y" transform="translate(811.5)"><ellipse/><text>←</text></g><g id="k18-16" class="Y" transform="translate(863.5)"><ellipse/><text>←</text></g></g>
<g id="row19" transform="translate(0 997.5)"><g id="k19-1" transform="translate(83.5)"><ellipse/><text>→</text></g><g id="k19-2" transform="translate(135.5)"><ellipse/><text>→</text></g><g id="k19-3" transform="translate(187.5)"><ellipse/><text>→</text></g><g id="k19-4" transform="translate(239.5)"><ellipse/><text>→</text></g><g id="k19-5" class="Y" transform="translate(291.5)"><ellipse/><text>→</text></g><g id="k19-6" class="Y" transform="translate(343.5)"><ellipse/><text>→</text></g><g id="k19-7" class="Y" transform="translate(395.5)"><ellipse/><text>→</text></g><g id="k19-8" class="O" transform="translate(447.5)"><ellipse/><text>→</text></g><g id="k19-9" transform="translate(499.5)"><ellipse/><text>→</text></g><g id="k19-10" transform="translate(551.5)"><ellipse/><text>→</text></g><g id="k19-11" class="O" transform="translate(603.5)"><ellipse/><text>→</text></g><g id="k19-12" class="Y" transform="translate(655.5)"><ellipse/><text>→</text></g><g id="k19-13" class="Y" transform="translate(707.5)"><ellipse/><text>→</text></g><g id="k19-14" class="Y" transform="translate(759.5)"><ellipse/><text>→</text></g><g id="k19-15" class="Y" transform="translate(811.5)"><ellipse/><text>→</text></g><g id="k19-16" class="Y" transform="translate(863.5)"><ellipse/><text>→</text></g></g>
<g id="row20" transform="translate(0 1049.5)"><g id="k20-1" transform="translate(83.5)"><ellipse/><text>←</text></g><g id="k20-2" class="Y" transform="translate(135.5)"><ellipse/><text>←</text></g><g id="k20-3" class="Y" transform="translate(187.5)"><ellipse/><text>←</text></g><g id="k20-4" class="Y" transform="translate(239.5)"><ellipse/><text>←</text></g><g id="k20-5" class="Y" transform="translate(291.5)"><ellipse/><text>←</text></g><g id="k20-6" class="Y" transform="translate(343.5)"><ellipse/><text>←</text></g><g id="k20-7" class="Y" transform="translate(395.5)"><ellipse/><text>←</text></g><g id="k20-8" class="O" transform="translate(447.5)"><ellipse/><text>←</text></g><g id="k20-9" transform="translate(499.5)"><ellipse/><text>←</text></g><g id="k20-10" transform="translate(551.5)"><ellipse/><text>←</text></g><g id="k20-11" class="O" transform="translate(603.5)"><ellipse/><text>←</text></g><g id="k20-12" class="Y" transform="translate(655.5)"><ellipse/><text>←</text></g><g id="k20-13" class="Y" transform="translate(707.5)"><ellipse/><text>←</text></g><g id="k20-14" class="Y" transform="translate(759.5)"><ellipse/><text>←</text></g><g id="k20-15" class="Y" transform="translate(811.5)"><ellipse/><text>←</text></g><g id="k20-16" class="Y" transform="translate(863.5)"><ellipse/><text>←</text></g></g>
<g id="row21" transform="translate(0 1101.5)"><g id="k21-1" transform="translate(83.5)"><ellipse/><text>→</text></g><g id="k21-2" transform="translate(135.5)"><ellipse/><text>→</text></g><g id="k21-3" transform="translate(187.5)"><ellipse/><text>→</text></g><g id="k21-4" class="Y" transform="translate(239.5)"><ellipse/><text>→</text></g><g id="k21-5" class="Y" transform="translate(291.5)"><ellipse/><text>→</text></g><g id="k21-6" transform="translate(343.5)"><ellipse/><text>→</text></g><g id="k21-7" transform="translate(395.5)"><ellipse/><text>→</text></g><g id="k21-8" transform="translate(447.5)"><ellipse/><text>→</text></g><g id="k21-9" transform="translate(499.5)"><ellipse/><text>→</text></g><g id="k21-10" transform="translate(551.5)"><ellipse/><text>→</text></g><g id="k21-11" class="O" transform="translate(603.5)"><ellipse/><text>→</text></g><g id="k21-12" class="Y" transform="translate(655.5)"><ellipse/><text>→</text></g><g id="k21-13" class="Y" transform="translate(707.5)"><ellipse/><text>→</text></g><g id="k21-14" class="Y" transform="translate(759.5)"><ellipse/><text>→</text></g><g id="k21-15" class="Y" transform="translate(811.5)"><ellipse/><text>→</text></g><g id="k21-16" class="Y" transform="translate(863.5)"><ellipse/><text>→</text></g></g>
<g id="row22" transform="translate(0 1153.5)"><g id="k22-1" transform="translate(83.5)"><ellipse/><text>←</text></g><g id="k22-2" transform="translate(135.5)"><ellipse/><text>←</text></g><g id="k22-3" transform="translate(187.5)"><ellipse/><text>←</text></g><g id="k22-4" transform="translate(239.5)"><ellipse/><text>←</text></g><g id="k22-5" transform="translate(291.5)"><ellipse/><text>←</text></g><g id="k22-6" transform="translate(343.5)"><ellipse/><text>←</text></g><g id="k22-7" transform="translate(395.5)"><ellipse/><text>←</text></g><g id="k22-8" class="Y" transform="translate(447.5)"><ellipse/><text>←</text></g><g id="k22-9" class="Y" transform="translate(499.5)"><ellipse/><text>←</text></g><g id="k22-10" transform="translate(551.5)"><ellipse/><text>←</text></g><g id="k22-11" transform="translate(603.5)"><ellipse/><text>←</text></g><g id="k22-12" class="O" transform="translate(655.5)"><ellipse/><text>←</text></g><g id="k22-13" class="Y" transform="translate(707.5)"><ellipse/><text>←</text></g><g id="k22-14" class="Y" transform="translate(759.5)"><ellipse/><text>←</text></g><g id="k22-15" class="Y" transform="translate(811.5)"><ellipse/><text>←</text></g><g id="k22-16" class="Y" transform="translate(863.5)"><ellipse/><text>←</text></g></g>
<g id="row23" transform="translate(0 1205.5)"><g id="k23-1" transform="translate(83.5)"><ellipse/><text>→</text></g><g id="k23-2" transform="translate(135.5)"><ellipse/><text>→</text></g><g id="k23-3" transform="translate(187.5)"><ellipse/><text>→</text></g><g id="k23-4" transform="translate(239.5)"><ellipse/><text>→</text></g><g id="k23-5" transform="translate(291.5)"><ellipse/><text>→</text></g><g id="k23-6" transform="translate(343.5)"><ellipse/><text>→</text></g><g id="k23-7" class="Y" transform="translate(395.5)"><ellipse/><text>→</text></g><g id="k23-8" class="Y" transform="translate(447.5)"><ellipse/><text>→</text></g><g id="k23-9" transform="translate(499.5)"><ellipse/><text>→</text></g><g id="k23-10" transform="translate(551.5)"><ellipse/><text>→</text></g><g id="k23-11" transform="translate(603.5)"><ellipse/><text>→</text></g><g id="k23-12" class="O" transform="translate(655.5)"><ellipse/><text>→</text></g><g id="k23-13" class="Y" transform="translate(707.5)"><ellipse/><text>→</text></g><g id="k23-14" class="Y" transform="translate(759.5)"><ellipse/><text>→</text></g><g id="k23-15" class="Y" transform="translate(811.5)"><ellipse/><text>→</text></g><g id="k23-16" class="Y" transform="translate(863.5)"><ellipse/><text>→</text></g></g>
<g id="row24" transform="translate(0 1257.5)"><g id="k24-1" transform="translate(83.5)"><ellipse/><text>←</text></g><g id="k24-2" transform="translate(135.5)"><ellipse/><text>←</text></g><g id="k24-3" transform="translate(187.5)"><ellipse/><text>←</text></g><g id="k24-4" transform="translate(239.5)"><ellipse/><text>←</text></g><g id="k24-5" transform="translate(291.5)"><ellipse/><text>←</text></g><g id="k24-6" transform="translate(343.5)"><ellipse/><text>←</text></g><g id="k24-7" transform="translate(395.5)"><ellipse/><text>←</text></g><g id="k24-8" transform="translate(447.5)"><ellipse/><text>←</text></g><g id="k24-9" transform="translate(499.5)"><ellipse/><text>←</text></g><g id="k24-10" class="O" transform="translate(551.5)"><ellipse/><text>←</text></g><g id="k24-11" transform="translate(603.5)"><ellipse/><text>←</text></g><g id="k24-12" transform="translate(655.5)"><ellipse/><text>←</text></g><g id="k24-13" class="O" transform="translate(707.5)"><ellipse/><text>←</text></g><g id="k24-14" class="O" transform="translate(759.5)"><ellipse/><text>←</text></g><g id="k24-15" class="Y" transform="translate(811.5)"><ellipse/><text>←</text></g><g id="k24-16" class="Y" transform="translate(863.5)"><ellipse/><text>←</text></g></g>
<g id="row25" transform="translate(0 1309.5)"><g id="k25-1" transform="translate(83.5)"><ellipse/><text>→</text></g><g id="k25-2" transform="translate(135.5)"><ellipse/><text>→</text></g><g id="k25-3" transform="translate(187.5)"><ellipse/><text>→</text></g><g id="k25-4" transform="translate(239.5)"><ellipse/><text>→</text></g><g id="k25-5" transform="translate(291.5)"><ellipse/><text>→</text></g><g id="k25-6" transform="translate(343.5)"><ellipse/><text>→</text></g><g id="k25-7" transform="translate(395.5)"><ellipse/><text>→</text></g><g id="k25-8" transform="translate(447.5)"><ellipse/><text>→</text></g><g id="k25-9" class="Y" transform="translate(499.5)"><ellipse/><text>→</text></g><g id="k25-10" class="O" transform="translate(551.5)"><ellipse/><text>→</text></g><g id="k25-11" class="O" transform="translate(603.5)"><ellipse/><text>→</text></g><g id="k25-12" transform="translate(655.5)"><ellipse/><text>→</text></g><g id="k25-13" transform="translate(707.5)"><ellipse/><text>→</text></g><g id="k25-14" transform="translate(759.5)"><ellipse/><text>→</text></g><g id="k25-15" class="O" transform="translate(811.5)"><ellipse/><text>→</text></g><g id="k25-16" class="O" transform="translate(863.5)"><ellipse/><text>→</text></g></g>
<g id="row26" transform="translate(0 1361.5)"><g id="k26-1" transform="translate(83.5)"><ellipse/><text>←</text></g><g id="k26-2" transform="translate(135.5)"><ellipse/><text>←</text></g><g id="k26-3" transform="translate(187.5)"><ellipse/><text>←</text></g><g id="k26-4" transform="translate(239.5)"><ellipse/><text>←</text></g><g id="k26-5" transform="translate(291.5)"><ellipse/><text>←</text></g><g id="k26-6" transform="translate(343.5)"><ellipse/><text>←</text></g><g id="k26-7" transform="translate(395.5)"><ellipse/><text>←</text></g><g id="k26-8" transform="translate(447.5)"><ellipse/><text>←</text></g><g id="k26-9" class="Y" transform="translate(499.5)"><ellipse/><text>←</text></g><g id="k26-10" class="Y" transform="translate(551.5)"><ellipse/><text>←</text></g><g id="k26-11" class="Y" transform="translate(603.5)"><ellipse/><text>←</text></g><g id="k26-12" transform="translate(655.5)"><ellipse/><text>←</text></g><g id="k26-13" class="Y" transform="translate(707.5)"><ellipse/><text>←</text></g><g id="k26-14" transform="translate(759.5)"><ellipse/><text>←</text></g><g id="k26-15" transform="translate(811.5)"><ellipse/><text>←</text></g><g id="k26-16" transform="translate(863.5)"><ellipse/><text>←</text></g></g>
<g id="row27" transform="translate(0 1413.5)"><g id="k27-1" transform="translate(83.5)"><ellipse/><text>→</text></g><g id="k27-2" transform="translate(135.5)"><ellipse/><text>→</text></g><g id="k27-3" transform="translate(187.5)"><ellipse/><text>→</text></g><g id="k27-4" transform="translate(239.5)"><ellipse/><text>→</text></g><g id="k27-5" transform="translate(291.5)"><ellipse/><text>→</text></g><g id="k27-6" transform="translate(343.5)"><ellipse/><text>→</text></g><g id="k27-7" class="Y" transform="translate(395.5)"><ellipse/><text>→</text></g><g id="k27-8" class="Y" transform="translate(447.5)"><ellipse/><text>→</text></g><g id="k27-9" class="Y" transform="translate(499.5)"><ellipse/><text>→</text></g><g id="k27-10" class="Y" transform="translate(551.5)"><ellipse/><text>→</text></g><g id="k27-11" transform="translate(603.5)"><ellipse/><text>→</text></g><g id="k27-12" transform="translate(655.5)"><ellipse/><text>→</text></g><g id="k27-13" class="Y" transform="translate(707.5)"><ellipse/><text>→</text></g><g id="k27-14" transform="translate(759.5)"><ellipse/><text>→</text></g><g id="k27-15" transform="translate(811.5)"><ellipse/><text>→</text></g><g id="k27-16" transform="translate(863.5)"><ellipse/><text>→</text></g></g>
<g id="row28" transform="translate(0 1465.5)"><g id="k28-1" transform="translate(83.5)"><ellipse/><text>←</text></g><g id="k28-2" transform="translate(135.5)"><ellipse/><text>←</text></g><g id="k28-3" transform="translate(187.5)"><ellipse/><text>←</text></g><g id="k28-4" transform="translate(239.5)"><ellipse/><text>←</text></g><g id="k28-5" transform="translate(291.5)"><ellipse/><text>←</text></g><g id="k28-6" class="Y" transform="translate(343.5)"><ellipse/><text>←</text></g><g id="k28-7" class="Y" transform="translate(395.5)"><ellipse/><text>←</text></g><g id="k28-8" class="Y" transform="translate(447.5)"><ellipse/><text>←</text></g><g id="k28-9" class="Y" transform="translate(499.5)"><ellipse/><text>←</text></g><g id="k28-10" class="Y" transform="translate(551.5)"><ellipse/><text>←</text></g><g id="k28-11" transform="translate(603.5)"><ellipse/><text>←</text></g><g id="k28-12" class="Y" transform="translate(655.5)"><ellipse/><text>←</text></g><g id="k28-13" transform="translate(707.5)"><ellipse/><text>←</text></g><g id="k28-14" transform="translate(759.5)"><ellipse/><text>←</text></g><g id="k28-15" class="O" transform="translate(811.5)"><ellipse/><text>←</text></g><g id="k28-16" class="O" transform="translate(863.5)"><ellipse/><text>←</text></g></g>
<g id="row29" transform="translate(0 1517.5)"><g id="k29-1" transform="translate(83.5)"><ellipse/><text>→</text></g><g id="k29-2" transform="translate(135.5)"><ellipse/><text>→</text></g><g id="k29-3" transform="translate(187.5)"><ellipse/><text>→</text></g><g id="k29-4" transform="translate(239.5)"><ellipse/><text>→</text></g><g id="k29-5" transform="translate(291.5)"><ellipse/><text>→</text></g><g id="k29-6" class="Y" transform="translate(343.5)"><ellipse/><text>→</text></g><g id="k29-7" class="Y" transform="translate(395.5)"><ellipse/><text>→</text></g><g id="k29-8" transform="translate(447.5)"><ellipse/><text>→</text></g><g id="k29-9" transform="translate(499.5)"><ellipse/><text>→</text></g><g id="k29-10" transform="translate(551.5)"><ellipse/><text>→</text></g><g id="k29-11" transform="translate(603.5)"><ellipse/><text>→</text></g><g id="k29-12" transform="translate(655.5)"><ellipse/><text>→</text></g><g id="k29-13" transform="translate(707.5)"><ellipse/><text>→</text></g><g id="k29-14" transform="translate(759.5)"><ellipse/><text>→</text></g><g id="k29-15" class="Y" transform="translate(811.5)"><ellipse/><text>→</text></g><g id="k29-16" class="Y" transform="translate(863.5)"><ellipse/><text>→</text></g></g>
<g id="row30" transform="translate(0 1569.5)"><g id="k30-1" transform="translate(83.5)"><ellipse/><text>←</text></g><g id="k30-2" transform="translate(135.5)"><ellipse/><text>←</text></g><g id="k30-3" transform="translate(187.5)"><ellipse/><text>←</text></g><g id="k30-4" transform="translate(239.5)"><ellipse/><text>←</text></g><g id="k30-5" transform="translate(291.5)"><ellipse/><text>←</text></g><g id="k30-6" class="Y" transform="translate(343.5)"><ellipse/><text>←</text></g><g id="k30-7" transform="translate(395.5)"><ellipse/><text>←</text></g><g id="k30-8" transform="translate(447.5)"><ellipse/><text>←</text></g><g id="k30-9" transform="translate(499.5)"><ellipse/><text>←</text></g><g id="k30-10" transform="translate(551.5)"><ellipse/><text>←</text></g><g id="k30-11" transform="translate(603.5)"><ellipse/><text>←</text></g><g id="k30-12" transform="translate(655.5)"><ellipse/><text>←</text></g><g id="k30-13" transform="translate(707.5)"><ellipse/><text>←</text></g><g id="k30-14" transform="translate(759.5)"><ellipse/><text>←</text></g><g id="k30-15" class="Y" transform="translate(811.5)"><ellipse/><text>←</text></g><g id="k30-16" class="Y" transform="translate(863.5)"><ellipse/><text>←</text></g></g>
<g id="row31" transform="translate(0 1621.5)"><g id="k31-1" transform="translate(83.5)"><ellipse/><text>→</text></g><g id="k31-2" transform="translate(135.5)"><ellipse/><text>→</text></g><g id="k31-3" transform="translate(187.5)"><ellipse/><text>→</text></g><g id="k31-4" transform="translate(239.5)"><ellipse/><text>→</text></g><g id="k31-5" transform="translate(291.5)"><ellipse/><text>→</text></g><g id="k31-6" class="Y" transform="translate(343.5)"><ellipse/><text>→</text></g><g id="k31-7" transform="translate(395.5)"><ellipse/><text>→</text></g><g id="k31-8" transform="translate(447.5)"><ellipse/><text>→</text></g><g id="k31-9" transform="translate(499.5)"><ellipse/><text>→</text></g><g id="k31-10" transform="translate(551.5)"><ellipse/><text>→</text></g><g id="k31-11" transform="translate(603.5)"><ellipse/><text>→</text></g><g id="k31-12" transform="translate(655.5)"><ellipse/><text>→</text></g><g id="k31-13" transform="translate(707.5)"><ellipse/><text>→</text></g><g id="k31-14" transform="translate(759.5)"><ellipse/><text>→</text></g><g id="k31-15" class="Y" transform="translate(811.5)"><ellipse/><text>→</text></g><g id="k31-16" class="Y" transform="translate(863.5)"><ellipse/><text>→</text></g></g>
<g id="row32" transform="translate(0 1673.5)"><g id="k32-1" transform="translate(83.5)"><ellipse/><text>←</text></g><g id="k32-2" transform="translate(135.5)"><ellipse/><text>←</text></g><g id="k32-3" transform="translate(187.5)"><ellipse/><text>←</text></g><g id="k32-4" transform="translate(239.5)"><ellipse/><text>←</text></g><g id="k32-5" transform="translate(291.5)"><ellipse/><text>←</text></g><g id="k32-6" transform="translate(343.5)"><ellipse/><text>←</text></g><g id="k32-7" transform="translate(395.5)"><ellipse/><text>←</text></g><g id="k32-8" transform="translate(447.5)"><ellipse/><text>←</text></g><g id="k32-9" transform="translate(499.5)"><ellipse/><text>←</text></g><g id="k32-10" transform="translate(551.5)"><ellipse/><text>←</text></g><g id="k32-11" transform="translate(603.5)"><ellipse/><text>←</text></g><g id="k32-12" transform="translate(655.5)"><ellipse/><text>←</text></g><g id="k32-13" transform="translate(707.5)"><ellipse/><text>←</text></g><g id="k32-14" transform="translate(759.5)"><ellipse/><text>←</text></g><g id="k32-15" transform="translate(811.5)"><ellipse/><text>←</text></g><g id="k32-16" class="Y" transform="translate(863.5)"><ellipse/><text>←</text></g></g>
<g id="row33" transform="translate(0 1725.5)"><g id="k33-1" transform="translate(83.5)"><ellipse/><text>→</text></g><g id="k33-2" transform="translate(135.5)"><ellipse/><text>→</text></g><g id="k33-3" transform="translate(187.5)"><ellipse/><text>→</text></g><g id="k33-4" transform="translate(239.5)"><ellipse/><text>→</text></g><g id="k33-5" transform="translate(291.5)"><ellipse/><text>→</text></g><g id="k33-6" transform="translate(343.5)"><ellipse/><text>→</text></g><g id="k33-7" transform="translate(395.5)"><ellipse/><text>→</text></g><g id="k33-8" transform="translate(447.5)"><ellipse/><text>→</text></g><g id="k33-9" transform="translate(499.5)"><ellipse/><text>→</text></g><g id="k33-10" transform="translate(551.5)"><ellipse/><text>→</text></g><g id="k33-11" transform="translate(603.5)"><ellipse/><text>→</text></g><g id="k33-12" transform="translate(655.5)"><ellipse/><text>→</text></g><g id="k33-13" transform="translate(707.5)"><ellipse/><text>→</text></g><g id="k33-14" transform="translate(759.5)"><ellipse/><text>→</text></g><g id="k33-15" transform="translate(811.5)"><ellipse/><text>→</text></g><g id="k33-16" class="Y" transform="translate(863.5)"><ellipse/><text>→</text></g></g>
<g id="row34" transform="translate(0 1777.5)"><g id="k34-1" transform="translate(83.5)"><ellipse/><text>←</text></g><g id="k34-2" transform="translate(135.5)"><ellipse/><text>←</text></g><g id="k34-3" transform="translate(187.5)"><ellipse/><text>←</text></g><g id="k34-4" transform="translate(239.5)"><ellipse/><text>←</text></g><g id="k34-5" transform="translate(291.5)"><ellipse/><text>←</text></g><g id="k34-6" transform="translate(343.5)"><ellipse/><text>←</text></g><g id="k34-7" transform="translate(395.5)"><ellipse/><text>←</text></g><g id="k34-8" transform="translate(447.5)"><ellipse/><text>←</text></g><g id="k34-9" transform="translate(499.5)"><ellipse/><text>←</text></g><g id="k34-10" transform="translate(551.5)"><ellipse/><text>←</text></g><g id="k34-11" transform="translate(603.5)"><ellipse/><text>←</text></g><g id="k34-12" transform="translate(655.5)"><ellipse/><text>←</text></g><g id="k34-13" transform="translate(707.5)"><ellipse/><text>←</text></g><g id="k34-14" transform="translate(759.5)"><ellipse/><text>←</text></g><g id="k34-15" transform="translate(811.5)"><ellipse/><text>←</text></g><g id="k34-16" transform="translate(863.5)"><ellipse/><text>←</text></g></g>
<g id="row35" transform="translate(0 1829.5)"><g id="k35-1" transform="translate(83.5)"><ellipse/><text>→</text></g><g id="k35-2" transform="translate(135.5)"><ellipse/><text>→</text></g><g id="k35-3" transform="translate(187.5)"><ellipse/><text>→</text></g><g id="k35-4" transform="translate(239.5)"><ellipse/><text>→</text></g><g id="k35-5" transform="translate(291.5)"><ellipse/><text>→</text></g><g id="k35-6" transform="translate(343.5)"><ellipse/><text>→</text></g><g id="k35-7" transform="translate(395.5)"><ellipse/><text>→</text></g><g id="k35-8" transform="translate(447.5)"><ellipse/><text>→</text></g><g id="k35-9" transform="translate(499.5)"><ellipse/><text>→</text></g><g id="k35-10" transform="translate(551.5)"><ellipse/><text>→</text></g><g id="k35-11" transform="translate(603.5)"><ellipse/><text>→</text></g><g id="k35-12" transform="translate(655.5)"><ellipse/><text>→</text></g><g id="k35-13" transform="translate(707.5)"><ellipse/><text>→</text></g><g id="k35-14" transform="translate(759.5)"><ellipse/><text>→</text></g><g id="k35-15" transform="translate(811.5)"><ellipse/><text>→</text></g><g id="k35-16" transform="translate(863.5)"><ellipse/><text>→</text></g></g>
<g id="row36" transform="translate(0 1881.5)"><g id="k36-1" transform="translate(83.5)"><ellipse/><text>←</text></g><g id="k36-2" transform="translate(135.5)"><ellipse/><text>←</text></g><g id="k36-3" transform="translate(187.5)"><ellipse/><text>←</text></g><g id="k36-4" transform="translate(239.5)"><ellipse/><text>←</text></g><g id="k36-5" transform="translate(291.5)"><ellipse/><text>←</text></g><g id="k36-6" transform="translate(343.5)"><ellipse/><text>←</text></g><g id="k36-7" transform="translate(395.5)"><ellipse/><text>←</text></g><g id="k36-8" transform="translate(447.5)"><ellipse/><text>←</text></g><g id="k36-9" transform="translate(499.5)"><ellipse/><text>←</text></g><g id="k36-10" transform="translate(551.5)"><ellipse/><text>←</text></g><g id="k36-11" transform="translate(603.5)"><ellipse/><text>←</text></g><g id="k36-12" transform="translate(655.5)"><ellipse/><text>←</text></g><g id="k36-13" transform="translate(707.5)"><ellipse/><text>←</text></g><g id="k36-14" transform="translate(759.5)"><ellipse/><text>←</text></g><g id="k36-15" transform="translate(811.5)"><ellipse/><text>←</text></g><g id="k36-16" transform="translate(863.5)"><ellipse/><text>←</text></g></g>
<g id="row37" transform="translate(0 1933.5)"><g id="k37-1" transform="translate(83.5)"><ellipse/><text>→</text></g><g id="k37-2" transform="translate(135.5)"><ellipse/><text>→</text></g><g id="k37-3" transform="translate(187.5)"><ellipse/><text>→</text></g><g id="k37-4" transform="translate(239.5)"><ellipse/><text>→</text></g><g id="k37-5" transform="translate(291.5)"><ellipse/><text>→</text></g><g id="k37-6" transform="translate(343.5)"><ellipse/><text>→</text></g><g id="k37-7" transform="translate(395.5)"><ellipse/><text>→</text></g><g id="k37-8" transform="translate(447.5)"><ellipse/><text>→</text></g><g id="k37-9" transform="translate(499.5)"><ellipse/><text>→</text></g><g id="k37-10" transform="translate(551.5)"><ellipse/><text>→</text></g><g id="k37-11" transform="translate(603.5)"><ellipse/><text>→</text></g><g id="k37-12" transform="translate(655.5)"><ellipse/><text>→</text></g><g id="k37-13" transform="translate(707.5)"><ellipse/><text>→</text></g><g id="k37-14" transform="translate(759.5)"><ellipse/><text>→</text></g><g id="k37-15" transform="translate(811.5)"><ellipse/><text>→</text></g><g id="k37-16" transform="translate(863.5)"><ellipse/><text>→</text></g></g>
<g id="row38" transform="translate(0 1985.5)"><g id="k38-1" transform="translate(83.5)"><ellipse/><text>←</text></g><g id="k38-2" transform="translate(135.5)"><ellipse/><text>←</text></g><g id="k38-3" transform="translate(187.5)"><ellipse/><text>←</text></g><g id="k38-4" transform="translate(239.5)"><ellipse/><text>←</text></g><g id="k38-5" transform="translate(291.5)"><ellipse/><text>←</text></g><g id="k38-6" transform="translate(343.5)"><ellipse/><text>←</text></g><g id="k38-7" transform="translate(395.5)"><ellipse/><text>←</text></g><g id="k38-8" transform="translate(447.5)"><ellipse/><text>←</text></g><g id="k38-9" transform="translate(499.5)"><ellipse/><text>←</text></g><g id="k38-10" transform="translate(551.5)"><ellipse/><text>←</text></g><g id="k38-11" transform="translate(603.5)"><ellipse/><text>←</text></g><g id="k38-12" transform="translate(655.5)"><ellipse/><text>←</text></g><g id="k38-13" transform="translate(707.5)"><ellipse/><text>←</text></g><g id="k38-14" transform="translate(759.5)"><ellipse/><text>←</text></g><g id="k38-15" transform="translate(811.5)"><ellipse/><text>←</text></g><g id="k38-16" transform="translate(863.5)"><ellipse/><text>←</text></g></g>
</g>
<text id="watermark" x="475" y="1028" text-anchor="middle" font-family="Liberation Sans, Arial, sans-serif" font-weight="bold" font-size="14" fill="#404040" stroke="#eeeeee" stroke-width="2.5" paint-order="stroke" textLength="154" lengthAdjust="spacingAndGlyphs">BRACELETBOOK.COM</text>
</svg>
